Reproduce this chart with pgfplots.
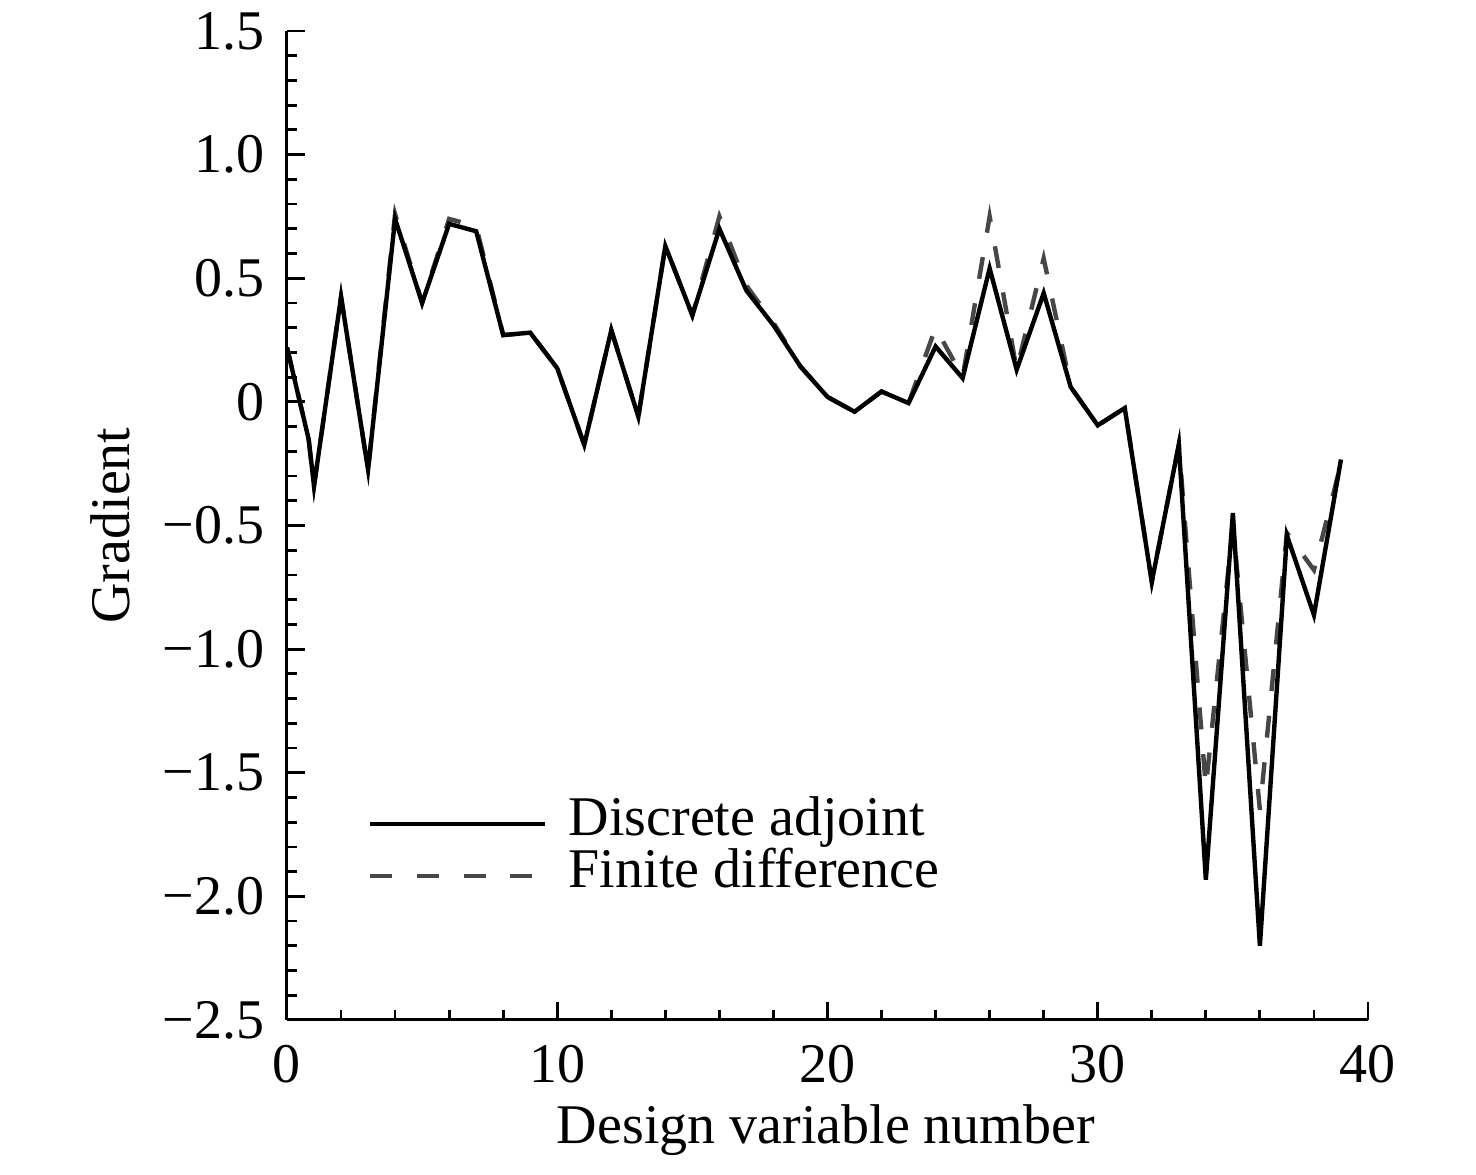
\documentclass[border=0pt]{standalone}
\usepackage{fontspec}
\setmainfont{Liberation Serif}
\usepackage{pgfplots}
\usepackage{pgfplotstable}
\pgfplotsset{compat=1.18}

\pgfplotstableread{
x y
0 0.22
0.8 -0.15
1 -0.34
2 0.425
3 -0.275
4 0.74
5 0.40
6 0.72
7 0.69
8 0.27
9 0.28
10 0.136
11 -0.174
12 0.29
13 -0.06
14 0.63
15 0.35
16 0.70
17 0.45
18 0.31
19 0.143
20 0.02
21 -0.04
22 0.042
23 -0.005
24 0.224
25 0.096
26 0.54
27 0.13
28 0.44
29 0.06
30 -0.095
31 -0.025
32 -0.728
33 -0.173
34 -1.933
35 -0.45
36 -2.20
37 -0.54
38 -0.862
39 -0.233
}\adjoint

\pgfplotstableread{
x y
0 0.22
0.8 -0.15
1 -0.34
2 0.425
3 -0.275
4 0.76
5 0.40
6 0.74
7 0.71
8 0.27
9 0.28
10 0.136
11 -0.174
12 0.29
13 -0.06
14 0.63
15 0.35
16 0.75
17 0.47
18 0.32
19 0.143
20 0.02
21 -0.04
22 0.042
23 -0.005
24 0.30
25 0.10
26 0.75
27 0.13
28 0.58
29 0.06
30 -0.095
31 -0.025
32 -0.728
33 -0.173
34 -1.56
35 -0.50
36 -1.65
37 -0.53
38 -0.68
39 -0.25
}\finitediff

\begin{document}
\fontsize{14}{16}\selectfont
\begin{tikzpicture}
\begin{axis}[name=ax,
  scale only axis, width=270.25pt, height=247.25pt,
  xmin=0, xmax=40, ymin=-2.5, ymax=1.5,
  axis x line*=bottom, axis y line*=left,
  tick align=inside,
  axis line style={line width=0.75pt},
  every tick/.append style={black, line width=0.7pt},
  major tick length=4.5pt, minor tick length=2.5pt,
  xtick={0,10,20,30,40}, minor x tick num=4,
  ytick={-2.5,-2,-1.5,-1,-0.5,0,0.5,1,1.5},
  yticklabels={−2.5,−2.0,−1.5,−1.0,−0.5,0,0.5,1.0,1.5},
  minor y tick num=4,
  /pgf/number format/assume math mode=true,
  ticklabel style={font=\fontsize{14}{16}\selectfont},
  xticklabel style={inner sep=0pt, anchor=north, yshift=-6pt},
  yticklabel style={inner sep=0pt, anchor=east, xshift=-5.5pt},
  xlabel={Design variable number},
  ylabel={Gradient},
  label style={font=\fontsize{14}{16}\selectfont},
  every axis x label/.style={at={(axis description cs:0.4986,-0.1112)}, anchor=center},
  every axis y label/.style={at={(axis description cs:-0.1637,0.5)}, rotate=90, anchor=center},
  legend style={draw=none, fill=none, at={(rel axis cs:0.074,0.172)}, anchor=west,
    inner sep=0pt, row sep=0pt, column sep=0pt,
    font=\fontsize{14}{16}\selectfont,
    nodes={inner xsep=2.9pt, inner ysep=0pt, text height=9.5pt, text depth=3.5pt}},
  legend cell align=left,
  legend image code/.code={\draw[#1] (0pt,0pt) -- (43.75pt,0pt);},
  reverse legend,
]
\addplot[black!72, line width=1.1pt, dash pattern=on 5.5pt off 6.2pt] table[x=x,y=y] {\finitediff};
\addlegendentry{\hspace{2.5pt}Finite difference}
\addplot[black, line width=1.1pt] table[x=x,y=y] {\adjoint};
\addlegendentry{\hspace{2.5pt}Discrete adjoint}
\end{axis}
\path (ax.south west) ++(-71.75pt,-36pt) coordinate (bl);
\path (ax.north east) ++(27pt,7.75pt) coordinate (tr);
\path (bl) rectangle (tr);
\end{tikzpicture}
\end{document}
